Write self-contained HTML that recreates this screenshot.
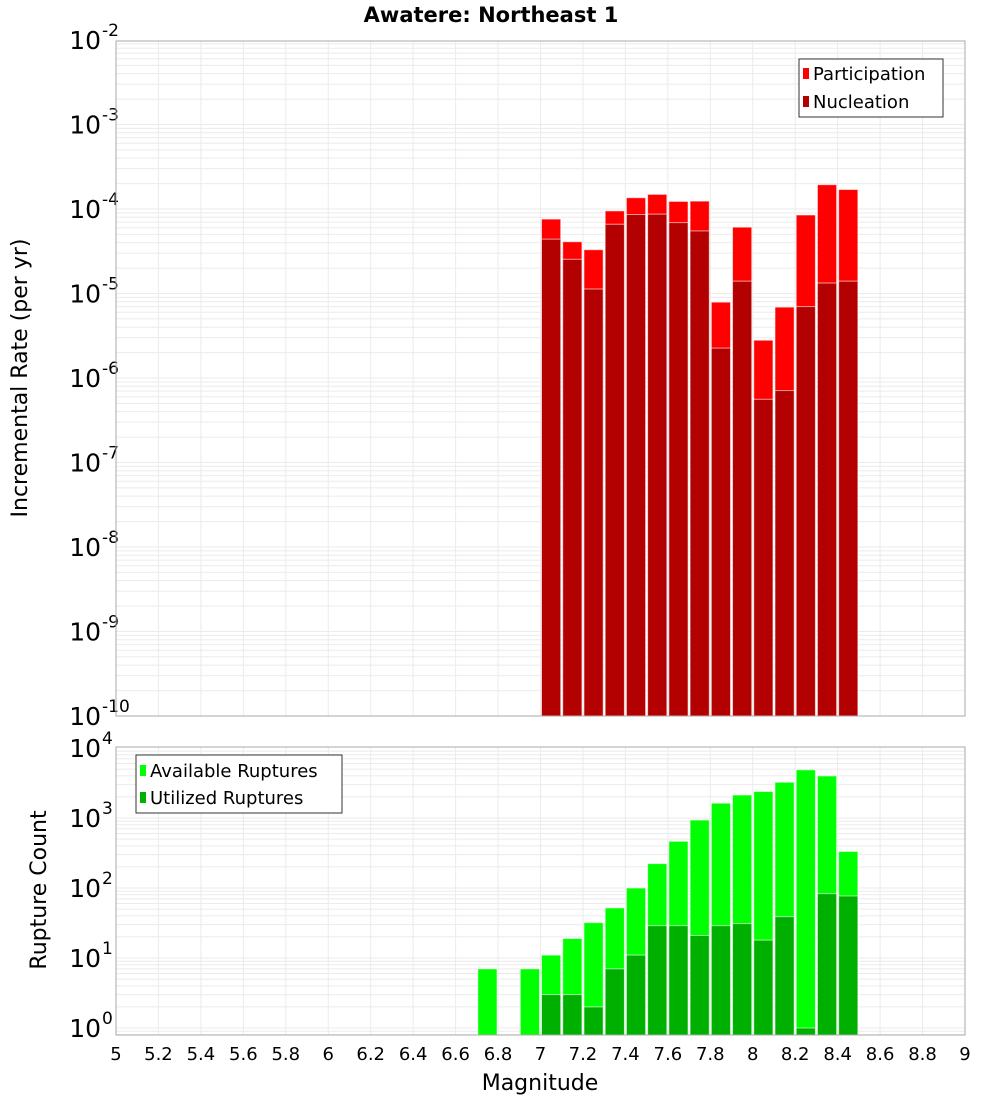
<!DOCTYPE html>
<html><head><meta charset="utf-8"><style>
body{margin:0;background:#fff}
svg{display:block;font-family:"DejaVu Sans","Liberation Sans",sans-serif}
</style></head><body>
<svg id="c" width="1000" height="1100" viewBox="0 0 1000 1100">
<text x="491" y="22" text-anchor="middle" font-size="21" font-weight="bold">Awatere: Northeast 1</text>
<g id="top"></g><g id="bot"></g>
<text transform="translate(27,378) rotate(-90)" text-anchor="middle" font-size="22">Incremental Rate (per yr)</text>
<text transform="translate(46,890) rotate(-90)" text-anchor="middle" font-size="22">Rupture Count</text>
<text x="540" y="1090" text-anchor="middle" font-size="22">Magnitude</text>
<g>
<rect x="799" y="59" width="144" height="58" fill="#fff" stroke="#333" stroke-width="1"/>
<rect x="803" y="68" width="6" height="11" fill="#ff0000"/>
<text x="813" y="80" font-size="18">Participation</text>
<rect x="803" y="96" width="6" height="11" fill="#b30000"/>
<text x="813" y="108" font-size="18">Nucleation</text>
</g>
<g>
<rect x="136" y="755" width="206" height="58" fill="#fff" stroke="#333" stroke-width="1"/>
<rect x="140" y="765" width="6" height="11" fill="#00ff00"/>
<text x="150" y="777" font-size="18">Available Ruptures</text>
<rect x="140" y="792" width="6" height="11" fill="#00b000"/>
<text x="150" y="804" font-size="18">Utilized Ruptures</text>
</g>
</svg>
<script>
const mags=[7.0,7.1,7.2,7.3,7.4,7.5,7.6,7.7,7.8,7.9,8.0,8.1,8.2,8.3,8.4];
const participation=[7.6e-5,4.1e-5,3.3e-5,9.5e-5,1.36e-4,1.49e-4,1.23e-4,1.24e-4,7.9e-6,6.1e-5,2.8e-6,6.9e-6,8.5e-5,1.94e-4,1.7e-4];
const nucleation=[4.4e-5,2.54e-5,1.13e-5,6.6e-5,8.6e-5,8.7e-5,6.9e-5,5.5e-5,2.26e-6,1.4e-5,5.6e-7,7.1e-7,7.0e-6,1.33e-5,1.4e-5];
const availMags=[6.7,6.9,7.0,7.1,7.2,7.3,7.4,7.5,7.6,7.7,7.8,7.9,8.0,8.1,8.2,8.3,8.4];
const available=[7,7,11,19,32,52,100,223,465,935,1630,2130,2390,3240,4880,3990,333];
const utilMags=[7.0,7.1,7.2,7.3,7.4,7.5,7.6,7.7,7.8,7.9,8.0,8.1,8.2,8.3,8.4];
const utilized=[3,3,2,7,11,29,29,21,29,31,18,39,1,83,77];
const xTicks=[5,5.2,5.4,5.6,5.8,6,6.2,6.4,6.6,6.8,7,7.2,7.4,7.6,7.8,8,8.2,8.4,8.6,8.8,9];
const topExps=[-2,-3,-4,-5,-6,-7,-8,-9,-10];
const botExps=[0,1,2,3,4];

const NS="http://www.w3.org/2000/svg";
const L=116,R=965;
const x=m=>L+(m-5)/4*(R-L);
function mk(p,t,a){const e=document.createElementNS(NS,t);for(const k in a)e.setAttribute(k,a[k]);p.appendChild(e);return e;}
function panel(g,top,bot,yf,exps,minE,maxE,name){
  for(let e=minE;e<=maxE;e++)for(let k=1;k<10;k++){const y=yf(k*Math.pow(10,e));if(y>=top&&y<=bot){
    const l=mk(g,'line',{x1:L,x2:R,y1:y,y2:y,stroke:'#ebebeb','stroke-width':1});
    
    }}
  xTicks.forEach(t=>{const l=mk(g,'line',{x1:x(t),x2:x(t),y1:top,y2:bot,stroke:'#ebebeb','stroke-width':1});
    
    });
  exps.forEach(e=>{const y=yf(Math.pow(10,e));
    const t=mk(g,'text',{x:101,y:y+9,'text-anchor':'end','font-size':25});t.textContent='10';
    
    
    const s=mk(g,'text',{x:102,y:y-4,'font-size':17});s.textContent=String(e);
    
    });
}
function bars(g,ms,vs,yf,bot,fill,name){
  ms.forEach((m,i)=>{const y=yf(vs[i]);const r=mk(g,'rect',{x:x(m)+1,y:y,width:x(m+0.1)-x(m)-2,height:bot-y,fill:fill,stroke:'#fff','stroke-opacity':0.6,'stroke-width':1});
    
    });
}
// top panel
const tg=document.getElementById('top');
const T0=41,T1=716;
const yT=v=>40+(-2-Math.log10(v))*84.5;
panel(tg,T0,T1,yT,topExps,-10,-3,'top');
bars(tg,mags,participation,yT,T1,'#ff0000','participation');
bars(tg,mags,nucleation,yT,T1,'#b30000','nucleation');
mk(tg,'rect',{x:L,y:T0,width:R-L,height:T1-T0,fill:'none',stroke:'#aaa','stroke-width':1});
// bottom panel
const bg=document.getElementById('bot');
const B0=747,B1=1035;
const yB=v=>1028-Math.log10(v)*70;
panel(bg,B0,B1,yB,botExps,-1,3,'bottom');
bars(bg,availMags,available,yB,B1,'#00ff00','available');
bars(bg,utilMags,utilized,yB,B1,'#00b000','utilized');
mk(bg,'rect',{x:L,y:B0,width:R-L,height:B1-B0,fill:'none',stroke:'#aaa','stroke-width':1});
xTicks.forEach(t=>{const s=mk(bg,'text',{x:x(t),y:1060,'text-anchor':'middle','font-size':18});
  s.textContent=String(t);
  
  });
</script>
</body></html>
